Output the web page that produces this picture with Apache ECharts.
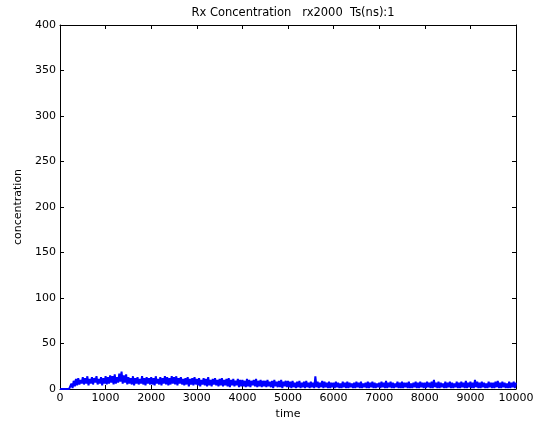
<!DOCTYPE html>
<html>
<head>
<meta charset="utf-8">
<script src="https://cdn.jsdelivr.net/npm/echarts@6/dist/echarts.min.js"></script>
<style>html,body{margin:0;padding:0;background:#fff}#c{width:537px;height:432px}</style>
</head>
<body>
<div id="c"></div>
<script>
var titleText = 'Rx Concentration   rx2000  Ts(ns):1';
var xName = 'time';
var yName = 'concentration';
var xTicks = [0,1000,2000,3000,4000,5000,6000,7000,8000,9000,10000];
var yTicks = [0,50,100,150,200,250,300,350,400];
var timeStep = 25;
var concentration = [
0,0,0,0,0,0,0,0,0,
2,6,1,9,3,11,4,12,5,10,6,
13,5,12,6,14,4,11,6,13,5,12,7,14,5,11,6,13,4,12,6,
14,5,13,6,15,7,14,5,16,6,13,7,17,8,19,6,15,7,16,5,
13,6,12,5,14,4,12,6,13,5,11,6,14,5,12,4,13,6,12,5,
13,5,12,4,14,6,11,5,13,4,12,6,14,5,13,4,12,5,14,6,
13,5,14,4,12,6,13,5,11,4,12,5,13,3,11,5,12,4,13,5,
11,4,12,3,10,5,12,4,11,3,13,4,10,3,11,5,12,4,10,3,
11,4,12,3,10,4,11,3,12,2,10,4,11,3,9,4,11,2,10,3,
10,3,9,2,11,3,10,2,9,4,10,3,11,2,9,3,10,2,9,3,
9,2,10,3,8,2,9,1,10,3,8,2,9,2,10,1,8,3,9,2,
9,2,8,1,9,2,7,1,8,2,9,1,7,2,8,1,9,2,7,1,
8,2,7,1,14,2,8,1,7,2,9,1,8,2,7,1,8,1,7,2,
7,1,8,2,7,1,6,1,8,2,7,1,8,1,7,2,6,1,7,1,
8,2,7,1,8,1,6,2,7,1,8,1,7,2,8,1,7,1,6,2,
7,1,8,2,7,1,9,1,7,2,8,1,7,1,6,2,8,1,7,1,
8,1,7,2,7,1,8,1,6,1,7,2,8,1,7,1,8,2,7,1,
7,1,8,2,7,1,8,1,10,2,7,1,8,1,7,2,6,1,8,1,
7,2,8,1,7,1,6,2,8,1,7,1,8,2,7,1,9,1,7,2,
8,1,7,1,10,2,8,1,7,1,8,2,7,1,6,1,8,2,7,1,
7,1,8,2,9,1,7,1,8,2,7,1,6,1,8,1,7,2,8,1,7
];
var seriesData = concentration.map(function(v,i){return [i*timeStep, v];});

var font = 'DejaVu Sans, Liberation Sans, sans-serif';
var chart = echarts.init(document.getElementById('c'), null, {renderer:'canvas'});
var baseX = {type:'value', min:xTicks[0], max:xTicks[xTicks.length-1], interval:1000,
  axisLine:{show:true, onZero:false, lineStyle:{color:'#000', width:1}},
  axisTick:{show:true, inside:true, length:4, lineStyle:{color:'#000'}},
  splitLine:{show:false}};
var baseY = {type:'value', min:yTicks[0], max:yTicks[yTicks.length-1], interval:50,
  axisLine:{show:true, onZero:false, lineStyle:{color:'#000', width:1}},
  axisTick:{show:true, inside:true, length:4, lineStyle:{color:'#000'}},
  splitLine:{show:false}};
chart.setOption({
  animation:false,
  backgroundColor:'#fff',
  title:{text:titleText, left:288, textAlign:'center', top:2,
    textStyle:{fontFamily:font, fontSize:11.5, fontWeight:'normal', color:'#000'}},
  grid:{left:60, right:21, top:25, bottom:43, containLabel:false},
  xAxis:[
    Object.assign({}, baseX, {position:'bottom', name:xName, nameLocation:'middle', nameGap:18,
      nameTextStyle:{fontFamily:font, fontSize:11, color:'#000'},
      axisLabel:{show:true, margin:4, fontFamily:font, fontSize:11, color:'#000',
        formatter:function(v){return String(v);}}}),
    Object.assign({}, baseX, {position:'top', axisLabel:{show:false}})
  ],
  yAxis:[
    Object.assign({}, baseY, {position:'left', name:yName, nameLocation:'middle', nameGap:28,
      nameTextStyle:{fontFamily:font, fontSize:11, color:'#000'},
      axisLabel:{show:true, margin:4, fontFamily:font, fontSize:11, color:'#000',
        formatter:function(v){return String(v);}}}),
    Object.assign({}, baseY, {position:'right', axisLabel:{show:false}})
  ],
  series:[{type:'line', data:seriesData, xAxisIndex:0, yAxisIndex:0, showSymbol:false, symbol:'none',
    sampling:null, lineStyle:{color:'#0000ff', width:2}, itemStyle:{color:'#0000ff'}}]
});
</script>
</body>
</html>
